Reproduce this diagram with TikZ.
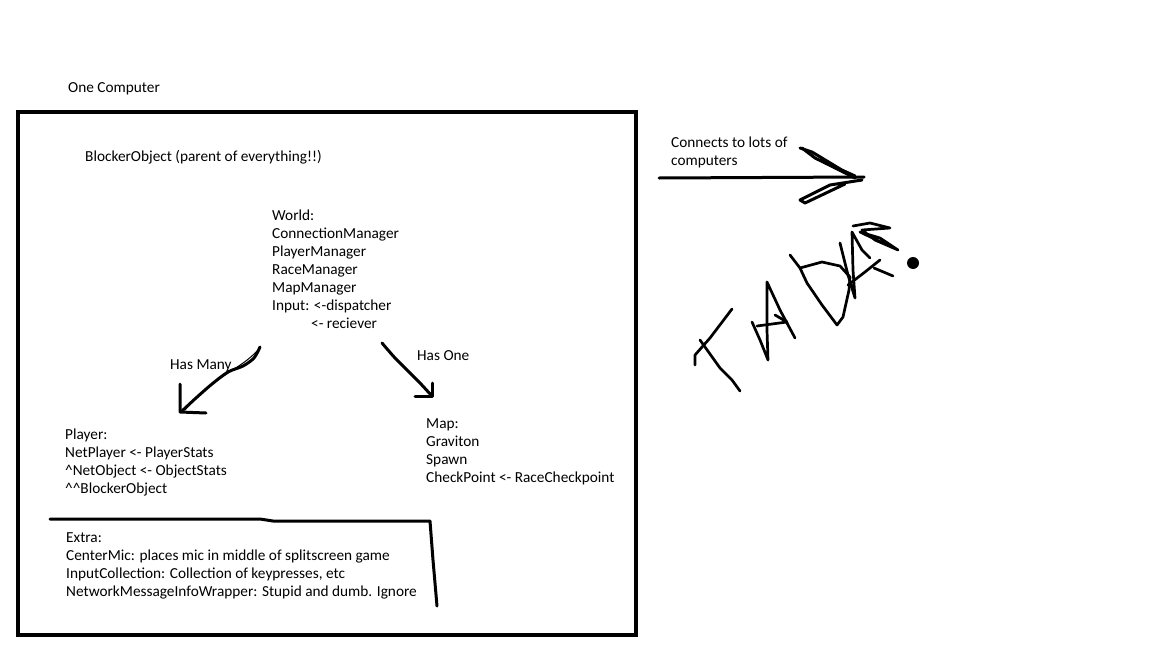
\documentclass[tikz,border=0pt]{standalone}
\usepackage{fontspec}
\setmainfont{Carlito}
\begin{document}
\begin{tikzpicture}[x=1pt,y=-1pt,
  txt/.style={anchor=base west,inner sep=0pt,align=left,font=\fontsize{15.3}{18}\selectfont},
  pen/.style={line width=3pt,line cap=round,line join=round},
  thinpen/.style={line width=2.7pt,line cap=round,line join=round}]
\useasboundingbox (0,0) rectangle (1152,648);
% outer box
\node[draw,line width=3.5pt,minimum width=618pt,minimum height=523pt,anchor=north west,inner sep=0pt] (box) at (16,110) {};
\node[txt] (title) at (68,92) {One Computer};
\node[txt] (blocker) at (85,161) {BlockerObject (parent of everything!!)};
\node[txt] (world) at (272,328) {World:\\ConnectionManager\\PlayerManager\\RaceManager\\MapManager\\Input: <-dispatcher\\\hspace*{39pt}<- reciever};
\node[txt] (hasmany) at (170,369) {Has Many};
\node[txt] (hasone) at (417,360) {Has One};
\node[txt] (player) at (65,493) {Player:\\NetPlayer <- PlayerStats\\\textasciicircum NetObject <- ObjectStats\\\textasciicircum\textasciicircum BlockerObject};
\node[txt] (map) at (426,482) {Map:\\Graviton\\Spawn\\CheckPoint <- RaceCheckpoint};
\node[txt] (extra) at (66,596) {Extra:\\CenterMic: places mic in middle of splitscreen game\\InputCollection: Collection of keypresses, etc\\NetworkMessageInfoWrapper: Stupid and dumb. Ignore};
\node[txt] (connects) at (671,165) {Connects to lots of\\computers};
% Has Many arrow
\coordinate (hm0) at (260,347);
\coordinate (hm1) at (182,411);
\draw[pen] plot[smooth] coordinates {(hm0) (254,358) (243,366) (228,372) (212,384) (196,398) (hm1)};
\draw[line width=1pt] (258,350) .. controls (240,370) and (215,375) .. (185,410);
\draw[pen] (180,384) -- (180,412) -- (206,413);
% Has One arrow
\coordinate (ho0) at (382,343);
\coordinate (ho1) at (431,395);
\draw[pen] plot[smooth] coordinates {(ho0) (395,358) (407,370) (420,383) (ho1)};
\draw[pen] (432,383) -- (432,396) -- (415,396);
% extra divider
\coordinate (e0) at (50,519);
\coordinate (e3) at (437,606);
\draw[pen] (e0) -- (260,519) -- (273,521) -- (430,521) -- (433,560) -- (e3);
% right arrow
\coordinate (r0) at (659,178);
\coordinate (r1) at (864,177);
\draw[pen] (r0) -- (r1);
\draw[pen] (800,148) -- (812,152) -- (855,178) -- (820,160) -- (855,176);
\draw[pen] (802,148) -- (815,158) -- (850,175);
\draw[pen] (862,180) -- (830,185) -- (800,200) -- (805,203) -- (845,184);
% TADA
\draw[thinpen] (732,309) -- (710,338) -- (695,355) -- (695,365);
\draw[thinpen] (700,340) -- (720,368) -- (732,380) -- (740,391);
\draw[thinpen] (752,322) -- (760,340) -- (768,360) -- (767,330) -- (767,282) -- (780,310) -- (795,338);
\draw[thinpen] (757,326) -- (787,322) -- (775,315);
\draw[thinpen] (790,255) -- (800,268) -- (807,283) -- (822,305) -- (837,325) -- (843,317) -- (849,290) -- (850,277) -- (840,266) -- (822,262) -- (800,268);
\draw[thinpen] (840,243) -- (848,275) -- (855,298) -- (853,270) -- (852,232) -- (862,250) -- (870,258);
\draw[thinpen] (848,285) -- (865,272) -- (880,260);
\draw[thinpen] (874,268) -- (893,276);
\draw[thinpen] (853,226) -- (870,223) -- (890,228) -- (862,230) -- (875,240) -- (898,250) -- (880,238) -- (860,232) -- (887,245);
\fill (913,263) circle (6pt);
\end{tikzpicture}
\end{document}
